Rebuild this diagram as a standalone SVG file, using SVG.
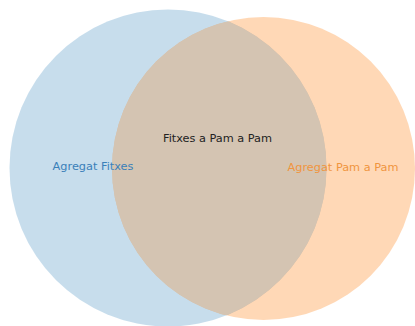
<svg xmlns="http://www.w3.org/2000/svg" width="415" height="326" viewBox="0 0 415 326">
<style>
text{font-family:"DejaVu Sans",sans-serif;font-size:11.3px;text-anchor:middle}
</style>
<defs><clipPath id="clipA"><circle cx="168" cy="168" r="158.5"/></clipPath></defs>
<rect width="415" height="326" fill="#ffffff"/>
<g id="setA"><circle cx="168" cy="168" r="158.5" fill="#1f77b4" fill-opacity="0.25"/></g>
<g id="setB"><circle cx="263.5" cy="168.5" r="151.5" fill="#ff7f0e" fill-opacity="0.3"/></g>
<g id="setAB"><circle cx="263.5" cy="168.5" r="151.5" fill="#d4c4b2" clip-path="url(#clipA)"/></g>
<g id="connectors"></g>
<g id="labels">
<text x="93" y="170" fill="#3a80b9">Agregat Fitxes</text>
<text x="217.5" y="142" fill="#222222">Fitxes a Pam a Pam</text>
<text x="343" y="171" fill="#f0953f">Agregat Pam a Pam</text>
</g>
</svg>
